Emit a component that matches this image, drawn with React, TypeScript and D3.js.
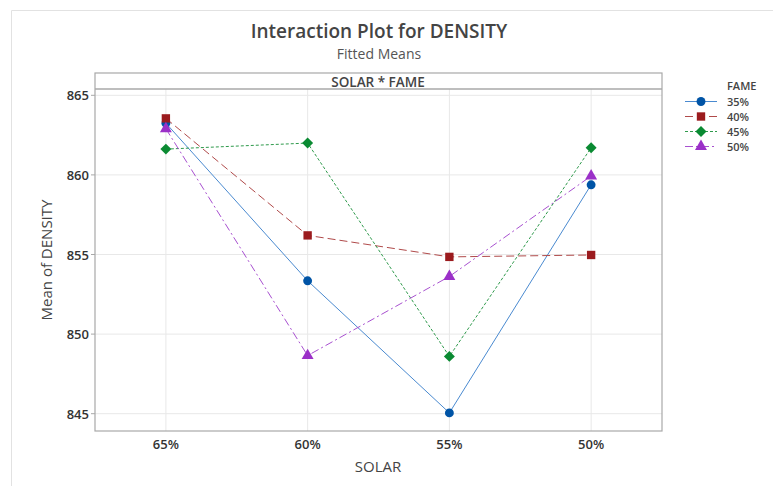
import * as d3 from "d3";

const solar = ["65%", "60%", "55%", "50%"];
const fameLevels = ["35%", "40%", "45%", "50%"];
const fame35 = [863.25, 853.35, 845.05, 859.38];
const fame40 = [863.55, 856.2, 854.85, 854.97];
const fame45 = [861.62, 862.0, 848.6, 861.7];
const fame50 = [862.9, 848.65, 853.62, 859.93];
const yTicks = [845, 850, 855, 860, 865];

// diamond as a rotated square, like Minitab's marker
const diamond = {
  draw(ctx: any, size: number) {
    const r = Math.sqrt(size / 2);
    ctx.moveTo(0, -r);
    ctx.lineTo(r, 0);
    ctx.lineTo(0, r);
    ctx.lineTo(-r, 0);
    ctx.closePath();
  },
};

const series = [
  { name: fameLevels[0], values: fame35, color: "#0054a6", line: "#4a8ad0", dash: "", shape: d3.symbolCircle, size: 62 },
  { name: fameLevels[1], values: fame40, color: "#9b1b1e", line: "#b04a4a", dash: "8,4", shape: d3.symbolSquare, size: 70 },
  { name: fameLevels[2], values: fame45, color: "#0a8a32", line: "#2f9a4c", dash: "3,2", shape: diamond, size: 60 },
  { name: fameLevels[3], values: fame50, color: "#9b30c8", line: "#a850d0", dash: "8,3,2,3", shape: d3.symbolTriangle, size: 62 },
];

const font = "'Open Sans', 'Noto Sans', sans-serif";

export default function App() {
  const W = 773,
    H = 486;
  const frame = { left: 95, right: 662, top: 73, header: 89, bottom: 431 };

  const x = d3.scalePoint<string>().domain(solar).range([frame.left, frame.right]).padding(0.5);
  const y = d3.scaleLinear().domain([845, 865]).range([413.7, 95.3]);

  const line = d3
    .line<number>()
    .x((_, i) => x(solar[i])!)
    .y((d) => y(d));

  return (
    <svg
      width={W}
      height={H}
      style={{ position: "absolute", left: 0, top: 0, background: "#fff" }}
      fontFamily={font}
    >
      {/* outer border */}
      <path d={`M11.5,${H} V10.5 H${W}`} fill="none" stroke="#e2e2e2" />

      <text x={379} y={38} textAnchor="middle" fontSize={19} fontWeight={600} fill="#444">
        Interaction Plot for DENSITY
      </text>
      <text x={379} y={59} textAnchor="middle" fontSize={14} fill="#555">
        Fitted Means
      </text>

      {/* grid */}
      {yTicks.map((t) => (
        <line key={t} x1={frame.left} x2={frame.right} y1={y(t)} y2={y(t)} stroke="#e8e8e8" />
      ))}
      {solar.map((s) => (
        <line key={s} x1={x(s)} x2={x(s)} y1={frame.header} y2={frame.bottom} stroke="#e8e8e8" />
      ))}

      {/* frame + header */}
      <rect
        x={frame.left}
        y={frame.top}
        width={frame.right - frame.left}
        height={frame.bottom - frame.top}
        fill="none"
        stroke="#a8a8a8"
        strokeWidth={1.2}
      />
      <line x1={frame.left} x2={frame.right} y1={frame.header} y2={frame.header} stroke="#a8a8a8" strokeWidth={1.5} />
      <text x={378} y={86.5} textAnchor="middle" fontSize={13.5} fontWeight={600} fill="#444">
        SOLAR * FAME
      </text>

      {/* y axis */}
      {yTicks.map((t) => (
        <g key={t}>
          <line x1={frame.left - 4} x2={frame.left} y1={y(t)} y2={y(t)} stroke="#a8a8a8" />
          <text x={frame.left - 6} y={y(t) + 5} textAnchor="end" fontSize={13} fontWeight={600} fill="#333">
            {t}
          </text>
        </g>
      ))}
      <text
        transform={`translate(52,${(frame.header + frame.bottom) / 2}) rotate(-90)`}
        textAnchor="middle"
        fontSize={15}
        fontWeight={500}
        fill="#444"
      >
        Mean of DENSITY
      </text>

      {/* x axis */}
      {solar.map((s) => (
        <text key={s} x={x(s)} y={449} textAnchor="middle" fontSize={13} fontWeight={600} fill="#333">
          {s}
        </text>
      ))}
      <text x={378} y={472} textAnchor="middle" fontSize={15} fontWeight={500} fill="#444">
        SOLAR
      </text>

      {/* series */}
      {series.map((s) => (
        <g key={s.name}>
          <path d={line(s.values)!} fill="none" stroke={s.line} strokeWidth={1} strokeDasharray={s.dash} />
          {s.values.map((v, i) => (
            <path
              key={i}
              transform={`translate(${x(solar[i])},${y(v)})`}
              d={d3.symbol(s.shape, s.size)()!}
              fill={s.color}
            />
          ))}
        </g>
      ))}

      {/* legend */}
      <text x={727} y={90} fontSize={11} fontWeight={600} fill="#444">
        FAME
      </text>
      {series.map((s, i) => {
        const ly = 101.5 + i * 15;
        return (
          <g key={s.name}>
            <line x1={685} x2={717} y1={ly} y2={ly} stroke={s.line} strokeDasharray={s.dash} />
            <path transform={`translate(701,${ly})`} d={d3.symbol(s.shape, s.size)()!} fill={s.color} />
            <text x={727} y={ly + 4} fontSize={11} fontWeight={600} fill="#444">
              {s.name}
            </text>
          </g>
        );
      })}
    </svg>
  );
}
